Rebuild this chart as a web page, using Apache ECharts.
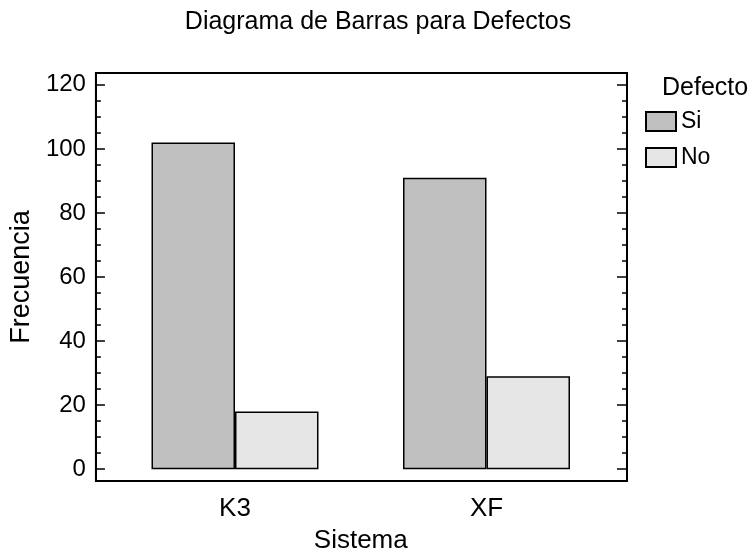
<!DOCTYPE html>
<html>
<head>
<meta charset="utf-8">
<script src="https://cdn.jsdelivr.net/npm/echarts@6/dist/echarts.min.js"></script>
<style>
html,body{margin:0;padding:0;background:#fff;}
#chart{width:756px;height:560px;}
</style>
</head>
<body>
<div id="chart"></div>
<script>
const categories = ['K3', 'XF'];
const seriesNames = ['Si', 'No'];
const valuesSi = [102, 91];
const valuesNo = [18, 29];
const majorTicks = [0, 20, 40, 60, 80, 100, 120];
const minorTicks = [0,5,10,15,20,25,30,35,40,45,50,55,60,65,70,75,80,85,90,95,100,105,110,115,120];

const FONT = '"Liberation Sans", Arial, sans-serif';
const yMin = -3.7, yMax = 123.7;

const chart = echarts.init(document.getElementById('chart'), null, {renderer: 'canvas'});

function yAx(pos, ticks, len, labels, extra) {
  return Object.assign({
    type: 'value', gridIndex: 0, position: pos, min: yMin, max: yMax,
    axisLine: {show: true, onZero: false, lineStyle: {color: '#000', width: 2}},
    axisTick: {show: true, inside: true, length: len, customValues: ticks, lineStyle: {color: '#000', width: 1.5}},
    axisLabel: labels ? {show: true, customValues: majorTicks, fontSize: 24, color: '#000', fontFamily: FONT, margin: 10} : {show: false},
    splitLine: {show: false}
  }, extra || {});
}

chart.setOption({
  animation: false,
  backgroundColor: '#fff',
  title: [
    {text: 'Diagrama de Barras para Defectos', left: 'center', top: 10, padding: 0,
     textStyle: {fontSize: 25, fontWeight: 'normal', color: '#000', fontFamily: FONT}},
    {text: 'Defecto', left: 662, top: 76, padding: 0,
     textStyle: {fontSize: 25, fontWeight: 'normal', color: '#000', fontFamily: FONT}}
  ],
  legend: {
    orient: 'vertical', left: 645, top: 110, padding: 0,
    itemWidth: 30, itemHeight: 19, itemGap: 13, icon: 'rect',
    textStyle: {fontSize: 23, color: '#000', fontFamily: FONT, lineHeight: 19},
    data: seriesNames
  },
  grid: [
    {left: 95, top: 73, width: 532, height: 408, show: true, borderColor: '#000', borderWidth: 2, backgroundColor: 'transparent'},
    {left: 109.25, top: 73, width: 503, height: 408, show: false}
  ],
  xAxis: [
    {type: 'value', gridIndex: 0, min: 0, max: 1, show: false},
    {type: 'category', gridIndex: 1, data: categories,
     axisLine: {show: false}, axisTick: {show: false},
     axisLabel: {fontSize: 26, color: '#000', fontFamily: FONT, margin: 15},
     name: 'Sistema', nameLocation: 'middle', nameGap: 47,
     nameTextStyle: {fontSize: 26, color: '#000', fontFamily: FONT}}
  ],
  yAxis: [
    yAx('left', majorTicks, 9, true, {name: 'Frecuencia', nameLocation: 'middle', nameGap: 57,
        nameTextStyle: {fontSize: 27, color: '#000', fontFamily: FONT}}),
    yAx('left', minorTicks, 5, false),
    yAx('right', majorTicks, 10, false),
    yAx('right', minorTicks, 5, false),
    {type: 'value', gridIndex: 1, min: yMin, max: yMax, show: false, splitLine: {show: false}}
  ],
  series: [
    {name: 'Si', type: 'bar', xAxisIndex: 1, yAxisIndex: 4, data: valuesSi,
     barGap: '0%', barCategoryGap: '33.6%',
     itemStyle: {color: '#c0c0c0', borderColor: '#000', borderWidth: 1.5}},
    {name: 'No', type: 'bar', xAxisIndex: 1, yAxisIndex: 4, data: valuesNo,
     barGap: '0%', barCategoryGap: '33.6%',
     itemStyle: {color: '#e6e6e6', borderColor: '#000', borderWidth: 1.5}}
  ]
});
</script>
</body>
</html>
